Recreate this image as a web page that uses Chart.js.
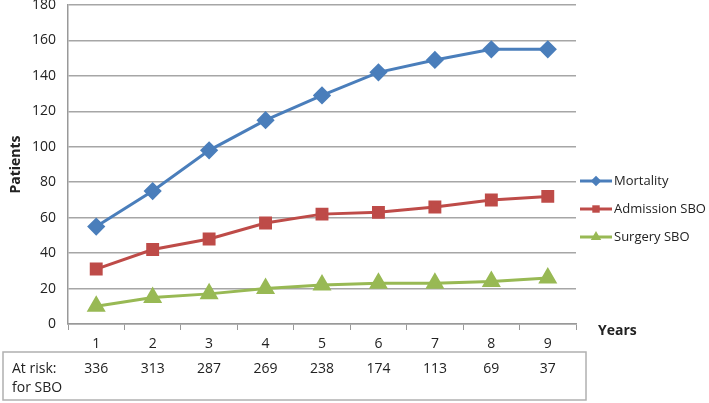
<!DOCTYPE html>
<html><head><meta charset="utf-8">
<script src="https://cdn.jsdelivr.net/npm/chart.js@4/dist/chart.umd.min.js"></script>
<style>html,body{margin:0;padding:0;background:#fff}#wrap{width:709px;height:403px;position:relative}</style>
</head><body><div id="wrap"><canvas id="c" width="709" height="403"></canvas></div>
<script>
const categories = ['1','2','3','4','5','6','7','8','9'];
const mortality = [55, 75, 98, 115, 129, 142, 149, 155, 155];
const admissionSBO = [31, 42, 48, 57, 62, 63, 66, 70, 72];
const surgerySBO = [10, 15, 17, 20, 22, 23, 23, 24, 26];
const atRisk = [336, 313, 287, 269, 238, 174, 113, 69, 37];
const yTicks = [0, 20, 40, 60, 80, 100, 120, 140, 160, 180];

const FONT = "'Open Sans', sans-serif";
const TXT = '#222';

const extras = {
  id: 'extras',
  afterDraw(chart) {
    const ctx = chart.ctx, xs = chart.scales.x;
    ctx.save();
    // Legend
    ctx.font = '13px ' + FONT;
    ctx.textBaseline = 'middle';
    chart.data.datasets.forEach((ds, i) => {
      const y = 181 + i * 28;
      ctx.strokeStyle = ds.borderColor; ctx.lineWidth = 3;
      ctx.beginPath(); ctx.moveTo(580, y); ctx.lineTo(612, y); ctx.stroke();
      ctx.fillStyle = ds.backgroundColor;
      Chart.helpers.drawPoint(ctx, {pointStyle: ds.pointStyle, radius: ds.pointRadius * 0.75, rotation: 0, borderWidth: 0}, 596, y);
      ctx.fillStyle = TXT; ctx.textAlign = 'left';
      ctx.fillText(ds.label, 614, y);
    });
    // Years label
    ctx.font = 'bold 14px ' + FONT;
    ctx.fillText('Years', 598, 331);
    // Table
    ctx.strokeStyle = '#b0b0b0'; ctx.lineWidth = 1.5;
    ctx.strokeRect(3, 352, 583, 48);
    ctx.font = '14px ' + FONT; ctx.fillStyle = TXT;
    ctx.textAlign = 'left';
    ctx.fillText('At risk:', 12, 369);
    ctx.fillText('for SBO', 12, 388);
    ctx.textAlign = 'center';
    atRisk.forEach((v, i) => ctx.fillText(String(v), xs.getPixelForValue(i), 369));
    ctx.restore();
  }
};

new Chart(document.getElementById('c'), {
  type: 'line',
  data: {
    labels: categories,
    datasets: [
      {label: 'Mortality', data: mortality, borderColor: '#4A7EBB', backgroundColor: '#4A7EBB', pointStyle: 'rectRot', pointRadius: 7, borderWidth: 3},
      {label: 'Admission SBO', data: admissionSBO, borderColor: '#BE4B48', backgroundColor: '#BE4B48', pointStyle: 'rect', pointRadius: 7, borderWidth: 3},
      {label: 'Surgery SBO', data: surgerySBO, borderColor: '#98B954', backgroundColor: '#98B954', pointStyle: 'triangle', pointRadius: 8, borderWidth: 3}
    ]
  },
  options: {
    responsive: false, animation: false,
    layout: {autoPadding: false, padding: {top: 5, right: 133, left: 0, bottom: 0}},
    plugins: {legend: {display: false}, tooltip: {enabled: false}},
    elements: {line: {tension: 0}, point: {borderWidth: 0}},
    scales: {
      x: {
        offset: true,
        grid: {drawOnChartArea: false, drawTicks: true, tickLength: 6, color: '#999', offset: true},
        border: {color: '#999', width: 1.5},
        ticks: {font: {family: FONT, size: 14}, color: TXT, padding: 6, maxRotation: 0},
        afterFit(s) { s.height = 79; s.paddingLeft = 0; s.paddingRight = 0; }
      },
      y: {
        min: 0, max: 180,
        afterBuildTicks(s) { s.ticks = yTicks.map(v => ({value: v})); },
        grid: {color: '#a6a6a6', lineWidth: 1.5, drawTicks: false},
        border: {color: '#999', width: 1.5},
        ticks: {font: {family: FONT, size: 14}, color: TXT, padding: 12},
        title: {display: true, text: 'Patients', font: {family: FONT, size: 14, weight: 'bold'}, color: TXT, padding: {top: 8, bottom: 0}},
        afterFit(s) { s.width = 68; s.paddingTop = 0; s.paddingBottom = 0; }
      }
    }
  },
  plugins: [extras]
});
</script>
</body></html>
